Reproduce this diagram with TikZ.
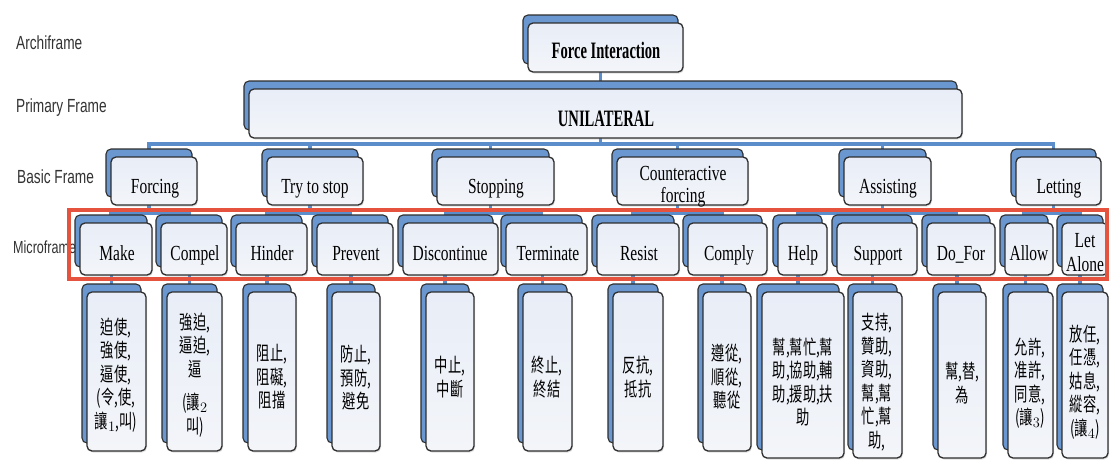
\documentclass[tikz,border=0pt]{standalone}
\usepackage{fontspec}
\usetikzlibrary{fit,calc,shadows}

% narrow faces for the row labels, box captions and Chinese entries
\newfontfamily\sidefont[FakeStretch=0.72]{Liberation Sans}
\newfontfamily\serffont[FakeStretch=0.72]{Liberation Serif}
\newfontfamily\topfont[FakeStretch=0.62]{Liberation Serif}
\newfontfamily\cjkfont[FakeStretch=0.68]{Noto Sans CJK TC}

\definecolor{connblue}{HTML}{5B8DCB}
\definecolor{backblue}{HTML}{6A97D0}
\definecolor{boxedge}{HTML}{2E2E2E}
\definecolor{boxfill}{HTML}{E8EDF7}
\definecolor{boxfilllow}{HTML}{F3F5F9}
\definecolor{framered}{HTML}{E5533F}
\definecolor{labelgray}{HTML}{333333}

\pgfdeclarelayer{paper}
\pgfdeclarelayer{links}
\pgfsetlayers{paper,links,main}

\tikzset{
  backbox/.style={rectangle, rounded corners=5pt, draw=boxedge, line width=1.1pt,
    fill=backblue, inner sep=0pt, outer sep=0pt},
  frontbox/.style={rectangle, rounded corners=5pt, draw=boxedge, line width=1.3pt,
    top color=boxfill, bottom color=boxfilllow, inner sep=0pt, outer sep=0pt,
    drop shadow={shadow xshift=1pt, shadow yshift=-1.5pt, opacity=0.25}},
  conn/.style={draw=connblue, line width=3.5pt},
  toptxt/.style={font=\topfont\bfseries\fontsize{23.5}{26}\selectfont, text=black, inner sep=0pt},
  boxtxt/.style={font=\serffont\fontsize{21.5}{22}\selectfont, text=black, inner sep=0pt, align=center},
  leaftxt/.style={font=\cjkfont\fontsize{19.5}{23.5}\selectfont, text=black, inner sep=0pt, align=center},
  rowlabel/.style={font=\sidefont\fontsize{19}{22}\selectfont, text=labelgray, anchor=base west, inner sep=0pt},
  redframe/.style={draw=framered, line width=4pt, inner sep=0pt, outer sep=0pt},
}

% a light front box over a blue box set up and to the left
\newcommand\stackedbox[5]{%
  \node[backbox, fit={({#2-5},{#3-8}) ({#4-5},{#5-8})}] (#1-b) {};
  \node[frontbox, fit={(#2,#3) (#4,#5)}] (#1) {};}

\begin{document}
\begin{tikzpicture}[x=1pt,y=-1pt]
\begin{pgfonlayer}{paper}
  \fill[white] (0,0) rectangle (1110,461);
\end{pgfonlayer}
\useasboundingbox (0,0) rectangle (1110,461);

% row labels
\node[rowlabel] (lab-arch) at (16,49) {Archiframe};
\node[rowlabel] (lab-prim) at (16,112) {Primary Frame};
\node[rowlabel] (lab-basic) at (17,183) {Basic Frame};
\node[rowlabel, font=\sidefont\fontsize{17.5}{20}\selectfont] (lab-micro) at (13,253) {Microframe};

% archiframe and primary frame
\stackedbox{force}{528}{23}{683}{72}
\stackedbox{uni}{249}{89}{962}{138}

% basic frames
\stackedbox{forcing}{111}{157}{197}{205}
\stackedbox{trystop}{267}{157}{363}{205}
\stackedbox{stopping}{437}{157}{554}{205}
\stackedbox{counter}{617}{157}{748}{205}
\stackedbox{assisting}{844}{157}{931}{205}
\stackedbox{letting}{1016}{157}{1101}{205}

% microframes
\stackedbox{make}{80}{223}{152}{275}
\stackedbox{compel}{161}{223}{227}{275}
\stackedbox{hinder}{236}{223}{307}{275}
\stackedbox{prevent}{317}{223}{393}{275}
\stackedbox{discont}{403}{223}{498}{275}
\stackedbox{terminate}{506}{223}{587}{275}
\stackedbox{resist}{597}{223}{679}{275}
\stackedbox{comply}{688}{223}{767}{275}
\stackedbox{help}{778}{223}{827}{275}
\stackedbox{support}{837}{223}{917}{275}
\stackedbox{dofor}{927}{223}{995}{275}
\stackedbox{allow}{1005}{223}{1053}{275}
\stackedbox{letalone}{1062}{223}{1108}{275}

% lexical entries
\stackedbox{leaf1}{87}{292}{146}{451}
\stackedbox{leaf2}{167}{292}{222}{451}
\stackedbox{leaf3}{248}{292}{296}{451}
\stackedbox{leaf4}{332}{292}{380}{451}
\stackedbox{leaf5}{426}{292}{474}{451}
\stackedbox{leaf6}{523}{292}{572}{451}
\stackedbox{leaf7}{613}{292}{663}{451}
\stackedbox{leaf8}{703}{292}{751}{451}
\stackedbox{leaf9}{762}{292}{844}{458}
\stackedbox{leaf10}{853}{292}{902}{458}
\stackedbox{leaf11}{938}{292}{986}{458}
\stackedbox{leaf12}{1008}{292}{1053}{458}
\stackedbox{leaf13}{1062}{292}{1108}{458}

% connectors, behind the boxes
\begin{pgfonlayer}{links}
  \draw[conn] (force-b.south) -- (force-b.south |- uni-b.north);
  \coordinate (bus1) at ($(uni-b.south |- uni.south)+(0,6)$);
  \draw[conn] (uni-b.south) -- (bus1);
  \draw[conn] (forcing-b.north) |- (bus1) -| (letting-b.north);
  \foreach \n in {trystop,stopping,counter,assisting}
    \draw[conn] (\n-b.north) -- (\n-b.north |- bus1);
  \foreach \p/\a/\b in {forcing/make/compel, trystop/hinder/prevent,
      stopping/discont/terminate, counter/resist/comply,
      assisting/help/dofor, letting/allow/letalone} {
    \coordinate (\p-bus) at ($(\p-b.south |- \p.south)+(0,8)$);
    \draw[conn] (\p-b.south) -- (\p-bus);
    \draw[conn] (\a-b.north) |- (\p-bus) -| (\b-b.north);
  }
  \draw[conn] (support-b.north) -- (support-b.north |- assisting-bus);
  \foreach \m/\l in {make/leaf1, compel/leaf2, hinder/leaf3, prevent/leaf4,
      discont/leaf5, terminate/leaf6, resist/leaf7, comply/leaf8,
      help/leaf9, support/leaf10, dofor/leaf11, allow/leaf12, letalone/leaf13}
    \draw[conn] (\l-b.north |- \m.south) -- (\l-b.north);
\end{pgfonlayer}

% captions
\node[toptxt, anchor=base] (force-t) at (606,58) {Force Interaction};
\node[toptxt, anchor=base] (uni-t) at (606,126) {UNILATERAL};

\node[boxtxt, anchor=base] (forcing-t) at (155,193) {Forcing};
\node[boxtxt, anchor=base] (trystop-t) at (315,193) {Try to stop};
\node[boxtxt, anchor=base] (stopping-t) at (496,193) {Stopping};
\node[boxtxt] (counter-t) at (683,187) {Counteractive\\forcing};
\node[boxtxt, anchor=base] (assisting-t) at (888,193) {Assisting};
\node[boxtxt, anchor=base] (letting-t) at (1059,193) {Letting};

\node[boxtxt, anchor=base] (make-t) at (117,260) {Make};
\node[boxtxt, anchor=base] (compel-t) at (195,260) {Compel};
\node[boxtxt, anchor=base] (hinder-t) at (272,260) {Hinder};
\node[boxtxt, anchor=base] (prevent-t) at (356,260) {Prevent};
\node[boxtxt, anchor=base] (discont-t) at (450,260) {Discontinue};
\node[boxtxt, anchor=base] (terminate-t) at (548,260) {Terminate};
\node[boxtxt, anchor=base] (resist-t) at (639,260) {Resist};
\node[boxtxt, anchor=base] (comply-t) at (729,260) {Comply};
\node[boxtxt, anchor=base] (help-t) at (803,260) {Help};
\node[boxtxt, anchor=base] (support-t) at (878,260) {Support};
\node[boxtxt, anchor=base] (dofor-t) at (961,260) {Do\_For};
\node[boxtxt, anchor=base] (allow-t) at (1029,260) {Allow};
\node[boxtxt, font=\serffont\fontsize{21.5}{24}\selectfont] (letalone-t) at (1085,253) {Let\\Alone};

\node[leaftxt] (leaf1-t) at (116,375) {迫使,\\強使,\\逼使,\\(令,使,\\讓$_1$,叫)};
\node[leaftxt] (leaf2-t) at (195,375) {強迫,\\逼迫,\\逼\\[10pt](讓$_2$\\叫)};
\node[leaftxt] (leaf3-t) at (272,377) {阻止,\\阻礙,\\阻擋};
\node[leaftxt] (leaf4-t) at (356,378) {防止,\\預防,\\避免};
\node[leaftxt] (leaf5-t) at (450,377) {中止,\\中斷};
\node[leaftxt] (leaf6-t) at (547,377) {終止,\\終結};
\node[leaftxt] (leaf7-t) at (638,377) {反抗,\\抵抗};
\node[leaftxt] (leaf8-t) at (727,377) {遵從,\\順從,\\聽從};
\node[leaftxt] (leaf9-t) at (803,382) {幫,幫忙,幫\\助,協助,輔\\助,援助,扶\\助};
\node[leaftxt] (leaf10-t) at (877,382) {支持,\\贊助,\\資助,\\幫,幫\\忙,幫\\助,};
\node[leaftxt] (leaf11-t) at (962,383) {幫,替,\\為};
\node[leaftxt] (leaf12-t) at (1030,383) {允許,\\准許,\\同意,\\(讓$_3$)};
\node[leaftxt] (leaf13-t) at (1085,382) {放任,\\任憑,\\姑息,\\縱容,\\(讓$_4$)};

% highlight around the microframe row
\node[redframe, fit={(69,210) (1107,279)}] (microband) {};
\end{tikzpicture}
\end{document}
